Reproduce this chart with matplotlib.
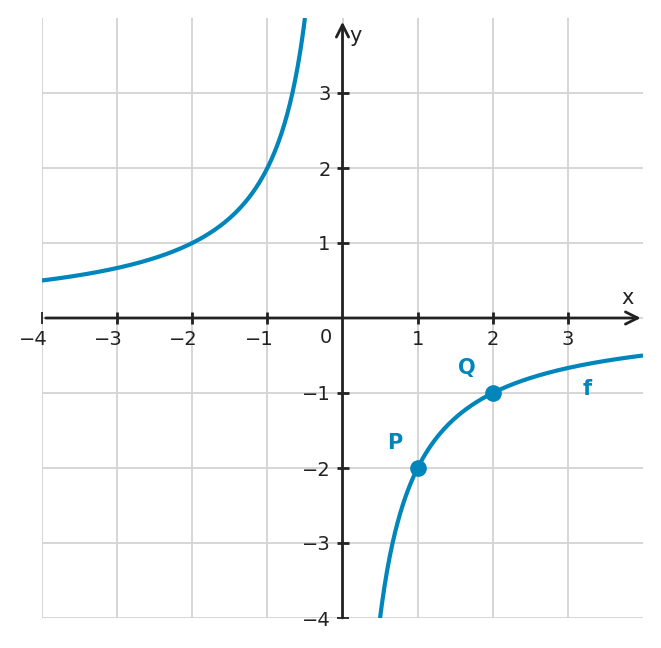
import numpy as np
import matplotlib.pyplot as plt
from matplotlib.transforms import ScaledTranslation

# f(x) = -2/x
x_left = np.linspace(-4, -0.5, 300)
x_right = np.linspace(0.5, 4, 300)
pts_x = [1, 2]
pts_y = [-2, -1]
pts_names = ['P', 'Q']
label_pos = [(0.69, -1.67), (1.66, -0.67)]
xticks = [-4, -3, -2, -1, 1, 2, 3]
yticks = [-4, -3, -2, -1, 1, 2, 3]

blue = '#0086BA'
dark = '#222222'

fig = plt.figure(figsize=(6.61, 6.48), dpi=100)
ax = fig.add_axes([42 / 661, 30 / 648, 601 / 661, 600 / 648])
ax.set_xlim(-4, 4)
ax.set_ylim(-4, 4)

for v in range(-4, 4):
    ax.axvline(v, color='#d3d3d3', lw=1.3, zorder=0)
    ax.axhline(v, color='#d3d3d3', lw=1.3, zorder=0)

for s in ['top', 'right']:
    ax.spines[s].set_visible(False)
ax.spines['left'].set_position(('data', 0))
ax.spines['bottom'].set_position(('data', 0))
ax.spines['left'].set_color('none')
ax.spines['bottom'].set_color('none')

# axes with arrows
ax.annotate('', xy=(3.97, 0), xytext=(-3.95, 0),
            arrowprops=dict(arrowstyle='->', color=dark, lw=2, mutation_scale=22, shrinkA=0, shrinkB=0))
ax.annotate('', xy=(0, 3.95), xytext=(0, -4),
            arrowprops=dict(arrowstyle='->', color=dark, lw=2, mutation_scale=22, shrinkA=0, shrinkB=0))

ax.set_xticks(xticks)
ax.set_yticks(yticks)
ax.set_xticklabels([str(t).replace('-', '\u2212') for t in xticks])
ax.set_yticklabels([str(t).replace('-', '\u2212') for t in yticks])
ax.tick_params(direction='inout', length=9, width=2, color=dark, labelsize=14,
               labelcolor=dark, pad=4)
# minus sign hangs to the left of the digit
shift = ScaledTranslation(-0.085, 0, fig.dpi_scale_trans)
for t, lab in zip(xticks, ax.get_xticklabels()):
    if t < 0:
        lab.set_transform(lab.get_transform() + shift)
# the -4 ticks sit past the axis lines, lighter
ax.xaxis.get_major_ticks()[0].tick1line.set_color('#8a8a8a')
ax.xaxis.get_major_ticks()[0].tick1line.set_markeredgewidth(1.3)
ax.yaxis.get_major_ticks()[0].tick1line.set_color('#8a8a8a')
ax.yaxis.get_major_ticks()[0].tick1line.set_markeredgewidth(1.3)

ax.text(-0.22, -0.26, '0', fontsize=14, color=dark, ha='center', va='center')
ax.text(3.8, 0.26, 'x', fontsize=15, color=dark, ha='center', va='center')
ax.text(0.18, 3.76, 'y', fontsize=15, color=dark, ha='center', va='center')

ax.plot(x_left, -2 / x_left, color=blue, lw=3, solid_capstyle='butt', clip_on=True)
ax.plot(x_right, -2 / x_right, color=blue, lw=3, solid_capstyle='butt', clip_on=True)
ax.plot(pts_x, pts_y, 'o', color=blue, ms=11, zorder=5)
for name, (lx, ly) in zip(pts_names, label_pos):
    ax.text(lx, ly, name, fontsize=15, fontweight='bold', color=blue, ha='center', va='center')
ax.text(3.26, -0.95, 'f', fontsize=15, fontweight='bold', color=blue, ha='center', va='center')

fig.savefig('out.png', dpi=100)
